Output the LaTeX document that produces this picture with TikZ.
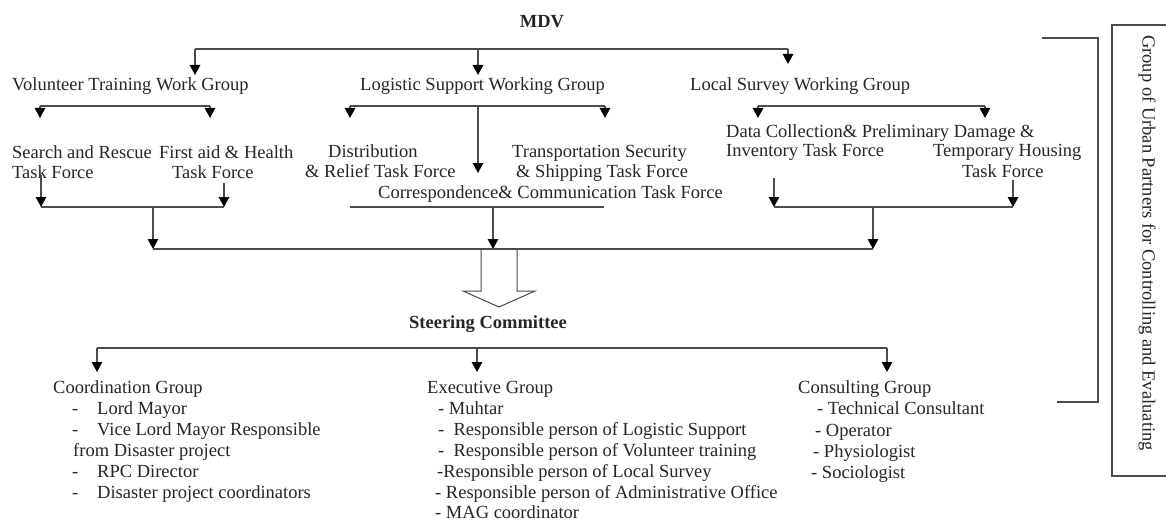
\documentclass[tikz,border=0pt]{standalone}
\usepackage{fontspec}
\setmainfont{Liberation Serif}
\usetikzlibrary{arrows.meta}
\definecolor{ink}{gray}{0.15}
\definecolor{linec}{gray}{0.3}
\newcommand\diagfont{\fontsize{18.5}{20}\selectfont}
\begin{document}
\begin{tikzpicture}[x=1pt,y=-1pt,
  txt/.style={anchor=base west, inner sep=0pt, font=\diagfont, text=ink},
  btxt/.style={anchor=base, inner sep=0pt, font=\diagfont\bfseries, text=ink},
  ln/.style={draw=linec, line width=1.3pt},
  arr/.style={ln, -{Triangle[length=10pt,width=10.5pt,color=black]}}]
\clip (0,0) rectangle (1166,524);
\fill[white] (0,0) rectangle (1166,524);

% ---------- texts ----------
\node[btxt] (mdv) at (542,28) {MDV};
\node[txt] (vt) at (12,91) {Volunteer Training Work Group};
\node[txt] (ls) at (360,91) {Logistic Support Working Group};
\node[txt] (lsv) at (690,91) {Local Survey Working Group};

\node[txt] (sr1) at (12,158) {Search and Rescue};
\node[txt] (sr2) at (12,178) {Task Force};
\node[txt] (fa1) at (159,158) {First aid \& Health};
\node[txt] (fa2) at (172,178) {Task Force};

\node[txt] (di1) at (328,157) {Distribution};
\node[txt] (di2) at (305,177) {\& Relief Task Force};
\node[txt] (tr1) at (512,157) {Transportation Security};
\node[txt] (tr2) at (516,177) {\& Shipping Task Force};
\node[txt] (co) at (378,198) {Correspondence\& Communication Task Force};

\node[txt] (dc1) at (726,137) {Data Collection\& Preliminary Damage \&};
\node[txt] (dc2) at (726,156) {Inventory Task Force};
\node[txt] (th1) at (933,156) {Temporary Housing};
\node[txt] (th2) at (962,177) {Task Force};

\node[btxt] (sc) at (488,328) {Steering Committee};

\node[txt] (cg) at (53,393) {Coordination Group};
\node[txt] (cgd1) at (72,414) {-};
\node[txt] (cg1) at (97,414) {Lord Mayor};
\node[txt] (cgd2) at (72,435) {-};
\node[txt] (cg2) at (97,435) {Vice Lord Mayor Responsible};
\node[txt] (cg3) at (73,456) {from Disaster project};
\node[txt] (cgd4) at (72,477) {-};
\node[txt] (cg4) at (97,477) {RPC Director};
\node[txt] (cgd5) at (72,498) {-};
\node[txt] (cg5) at (97,498) {Disaster project coordinators};

\node[txt] (eg) at (427,393) {Executive Group};
\node[txt] (eg1) at (438,414) {- Muhtar};
\node[txt] (eg2) at (438,435) {-\ \ Responsible person of Logistic Support};
\node[txt] (eg3) at (438,456) {-\ \ Responsible person of Volunteer training};
\node[txt] (eg4) at (437,477) {-Responsible person of Local Survey};
\node[txt] (eg5) at (435,498) {- Responsible person of Administrative Office};
\node[txt] (eg6) at (435,518) {- MAG coordinator};

\node[txt] (cs) at (798,393) {Consulting Group};
\node[txt] (cs1) at (817,414) {- Technical Consultant};
\node[txt] (cs2) at (815,436) {- Operator};
\node[txt] (cs3) at (813,457) {- Physiologist};
\node[txt] (cs4) at (811,478) {- Sociologist};

\node[inner sep=0pt, font=\diagfont, text=ink, rotate=-90] (grp) at (1147,243)
  {Group of Urban Partners for Controlling and Evaluating};

% ---------- coordinates ----------
\coordinate (t1) at (195,49); \coordinate (t2) at (478,49); \coordinate (t3) at (788,49);
\coordinate (t1e) at (195,75); \coordinate (t2e) at (478,75); \coordinate (t3e) at (788,64);

\coordinate (v1) at (40,106); \coordinate (v2) at (210,106);
\coordinate (v1e) at (40,118); \coordinate (v2e) at (210,118);

\coordinate (l1) at (350,106); \coordinate (l2) at (478,106); \coordinate (l3) at (605,106);
\coordinate (l1e) at (350,118); \coordinate (l2e) at (478,173); \coordinate (l3e) at (605,118);

\coordinate (s1) at (758,106); \coordinate (s2) at (985,106);
\coordinate (s1e) at (758,118); \coordinate (s2e) at (985,118);

\coordinate (a1s) at (41,175); \coordinate (a1e) at (41,207);
\coordinate (a2s) at (224,183); \coordinate (a2e) at (224,207);
\coordinate (am) at (153,207); \coordinate (ame) at (153,249);

\coordinate (b1) at (350,207); \coordinate (b2) at (604,207);
\coordinate (bm) at (493,207); \coordinate (bme) at (493,249);

\coordinate (c1s) at (774,178); \coordinate (c1e) at (774,207);
\coordinate (c2s) at (1013,180); \coordinate (c2e) at (1013,207);
\coordinate (cm) at (873,207); \coordinate (cme) at (873,249);

\coordinate (st1) at (97,348); \coordinate (st2) at (477,348); \coordinate (st3) at (887,348);
\coordinate (st1e) at (97,372); \coordinate (st2e) at (477,372); \coordinate (st3e) at (887,372);

\coordinate (br1) at (1042,38); \coordinate (br2) at (1098,38);
\coordinate (br3) at (1098,402); \coordinate (br4) at (1057,402);

% ---------- connectors ----------
\draw[ln] (t1) -- (t3);
\draw[arr] (t1) -- (t1e);
\draw[arr] (t2) -- (t2e);
\draw[arr] (t3) -- (t3e);

\draw[ln] (v1) -- (v2);
\draw[arr] (v1) -- (v1e);
\draw[arr] (v2) -- (v2e);

\draw[ln] (l1) -- (l3);
\draw[arr] (l1) -- (l1e);
\draw[arr] (l2) -- (l2e);
\draw[arr] (l3) -- (l3e);

\draw[ln] (s1) -- (s2);
\draw[arr] (s1) -- (s1e);
\draw[arr] (s2) -- (s2e);

\draw[arr] (a1s) -- (a1e);
\draw[arr] (a2s) -- (a2e);
\draw[ln] (a1e) -- (a2e);
\draw[arr] (am) -- (ame);

\draw[ln] (b1) -- (b2);
\draw[arr] (bm) -- (bme);

\draw[arr] (c1s) -- (c1e);
\draw[arr] (c2s) -- (c2e);
\draw[ln] (c1e) -- (c2e);
\draw[arr] (cm) -- (cme);

\draw[ln] (ame) -- (cme);

% block arrow
\draw[ln, line width=1pt, line join=miter] (481,249) -- (481,291) -- (463,291) -- (499,307) -- (535,291) -- (517,291) -- (517,249);

\draw[ln] (st1) -- (st3);
\draw[arr] (st1) -- (st1e);
\draw[arr] (st2) -- (st2e);
\draw[arr] (st3) -- (st3e);

\draw[ln] (br1) -- (br2) -- (br3) -- (br4);
\draw[ln] (1112,25) rectangle (1180,476);
\end{tikzpicture}
\end{document}
